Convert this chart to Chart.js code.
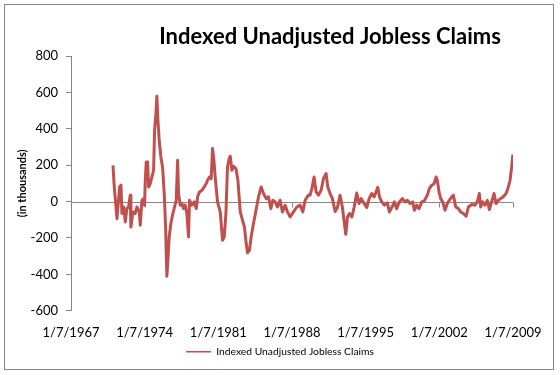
<!DOCTYPE html>
<html lang="en">
<head>
<meta charset="UTF-8" />
<title>Indexed Unadjusted Jobless Claims</title>
<script src="https://cdn.jsdelivr.net/npm/chart.js"></script>
<style>
  html, body { margin: 0; padding: 0; background: #fff; }
  #wrap { width: 560px; height: 375px; position: relative; }
</style>
</head>
<body>
<div id="wrap"><canvas id="claimsChart" width="560" height="375"></canvas></div>
<script>
// weekly readings, year as decimal, values in thousands
const years = [
  1970.99, 1971.11, 1971.37, 1971.62, 1971.75, 1971.84, 1972.00, 1972.16, 1972.31, 1972.47,
  1972.63, 1972.69, 1972.88, 1973.10, 1973.26, 1973.49, 1973.58, 1973.74, 1973.90, 1973.99,
  1974.06, 1974.15, 1974.28, 1974.37, 1974.53, 1974.69, 1974.85, 1974.94, 1975.07, 1975.16,
  1975.26, 1975.38, 1975.54, 1975.70, 1975.86, 1975.99, 1976.05, 1976.11, 1976.21, 1976.33,
  1976.49, 1976.68, 1976.84, 1977.00, 1977.13, 1977.22, 1977.38, 1977.54, 1977.69, 1977.85,
  1978.01, 1978.17, 1978.26, 1978.49, 1978.71, 1978.90, 1979.03, 1979.21, 1979.44, 1979.66,
  1979.85, 1979.97, 1980.16, 1980.32, 1980.45, 1980.58, 1980.70, 1980.92, 1981.18, 1981.40,
  1981.56, 1981.72, 1981.87, 1982.03, 1982.13, 1982.29, 1982.44, 1982.67, 1982.86, 1983.08,
  1983.30, 1983.48, 1983.65, 1983.77, 1983.96, 1984.12, 1984.34, 1984.56, 1984.82, 1985.07,
  1985.29, 1985.55, 1985.76, 1985.99, 1986.18, 1986.40, 1986.62, 1986.87, 1987.09, 1987.35,
  1987.57, 1987.82, 1988.14, 1988.46, 1988.77, 1989.03, 1989.25, 1989.56, 1989.72, 1989.89,
  1990.10, 1990.29, 1990.51, 1990.77, 1990.99, 1991.24, 1991.40, 1991.62, 1991.84, 1992.10,
  1992.32, 1992.57, 1992.79, 1992.98, 1993.11, 1993.27, 1993.46, 1993.68, 1993.90, 1994.15,
  1994.38, 1994.57, 1994.85, 1995.10, 1995.33, 1995.58, 1995.80, 1995.99, 1996.15, 1996.31,
  1996.53, 1996.78, 1997.06, 1997.25, 1997.48, 1997.73, 1997.95, 1998.20, 1998.49, 1998.74,
  1998.96, 1999.22, 1999.47, 1999.63, 1999.85, 2000.07, 2000.33, 2000.58, 2000.86, 2001.05,
  2001.28, 2001.50, 2001.69, 2001.81, 2001.97, 2002.13, 2002.32, 2002.54, 2002.76, 2002.95,
  2003.18, 2003.33, 2003.56, 2003.81, 2004.03, 2004.28, 2004.54, 2004.76, 2005.08, 2005.39,
  2005.61, 2005.80, 2005.93, 2006.12, 2006.34, 2006.56, 2006.75, 2006.97, 2007.20, 2007.39,
  2007.61, 2007.83, 2008.08, 2008.34, 2008.56, 2008.72, 2008.87, 2008.96, 2009.00
];
const claims = [
  199, 80, -94, 80, 90, -66, -30, -112, -39, -30,
  35, -140, -57, -66, -30, -57, -130, 7, 16, -20,
  117, 218, 218, 80, 99, 135, 172, 392, 483, 579,
  447, 337, 245, 190, 44, -140, -286, -410, -322, -194,
  -121, -66, -30, 7, 227, 44, -20, -11, -39, -20,
  -66, -194, 7, -20, -2, -39, 26, 53, 62, 80,
  99, 117, 135, 126, 291, 227, 135, -2, -57, -213,
  -194, -66, 190, 236, 249, 172, 194, 181, 117, -55,
  -103, -140, -231, -282, -268, -194, -121, -55, 26, 80,
  44, 16, 26, -39, 7, -2, -30, 7, -57, -20,
  -57, -84, -57, -30, -20, -57, 7, 35, 35, 71,
  135, 53, 35, 62, 127, 154, 80, 44, 16, -55,
  -33, 35, -33, -121, -180, -85, -66, -85, -33, 47,
  -11, 16, -11, -33, 16, 44, 26, 53, 78, 26,
  -2, -20, -7, -57, -33, -2, -39, -2, 16, -2,
  7, -11, -2, -48, -20, -39, -2, 4, 35, 71,
  90, 98, 135, 117, 53, 16, -2, -48, -11, 7,
  26, 35, -30, -39, -57, -66, -81, -30, -16, -20,
  -2, 44, -30, -2, -20, 7, -44, -2, 44, -11,
  7, 16, 26, 44, 80, 117, 190, 245, 258
];
const xTicks = [1967, 1974, 1981, 1988, 1995, 2002, 2009];
const yMin = -600, yMax = 800, yStep = 200;

const GRAY = '#868686';
const FONT = 'Lato, Carlito, Calibri, "DejaVu Sans", sans-serif';

// outer frame + title placed like the Excel original
const frame = {
  id: 'frame',
  beforeDraw(chart) {
    const ctx = chart.ctx;
    ctx.save();
    ctx.fillStyle = '#fff';
    ctx.fillRect(0, 0, chart.width, chart.height);
    ctx.strokeStyle = GRAY;
    ctx.lineWidth = 1;
    ctx.strokeRect(4.5, 4.5, 549, 365);
    ctx.fillStyle = '#000';
    ctx.font = 'bold 22px ' + FONT;
    ctx.textAlign = 'center';
    ctx.textBaseline = 'middle';
    ctx.fillText('Indexed Unadjusted Jobless Claims', 330, 37);
    ctx.restore();
  },
  // legend is centred on the whole frame, not on the plot
  afterLayout(chart) {
    if (chart.legend) {
      chart.legend.left = 0;
      chart.legend.right = chart.width;
    }
  }
};

// horizontal axis line sits on zero, labels stay at the bottom
const zeroAxis = {
  id: 'zeroAxis',
  beforeDatasetsDraw(chart) {
    const { ctx, scales: { x, y } } = chart;
    const y0 = Math.round(y.getPixelForValue(0)) + 0.5;
    ctx.save();
    ctx.strokeStyle = GRAY;
    ctx.lineWidth = 1;
    ctx.beginPath();
    ctx.moveTo(x.left, y0);
    ctx.lineTo(x.right, y0);
    xTicks.forEach(t => {
      const px = Math.round(x.getPixelForValue(t)) + 0.5;
      ctx.moveTo(px, y0);
      ctx.lineTo(px, y0 + 5);
    });
    ctx.stroke();
    ctx.restore();
  }
};

new Chart(document.getElementById('claimsChart'), {
  type: 'line',
  data: {
    datasets: [{
      label: 'Indexed Unadjusted Jobless Claims',
      data: years.map((yr, i) => ({ x: yr, y: claims[i] })),
      borderColor: '#C0504D',
      backgroundColor: '#C0504D',
      borderWidth: 3,
      pointRadius: 0,
      tension: 0,
      borderJoinStyle: 'round'
    }]
  },
  options: {
    responsive: false,
    animation: false,
    layout: { padding: { left: 0, right: 47, top: 56, bottom: 8 } },
    plugins: {
      title: { display: false },
      tooltip: { enabled: false },
      legend: {
        position: 'bottom',
        labels: {
          color: '#000',
          font: { family: FONT, size: 10.3 },
          usePointStyle: true,
          pointStyle: 'line',
          pointStyleWidth: 25,
          padding: 8,
          generateLabels(chart) {
            const items = Chart.defaults.plugins.legend.labels.generateLabels(chart);
            items.forEach(it => { it.lineWidth = 1.5; it.pointStyle = 'line'; });
            return items;
          }
        }
      }
    },
    scales: {
      x: {
        type: 'linear',
        min: xTicks[0],
        max: xTicks[xTicks.length - 1],
        border: { display: false },
        grid: { display: false, drawTicks: false },
        afterBuildTicks(scale) { scale.ticks = xTicks.map(v => ({ value: v })); },
        afterFit(scale) { scale.height = 28; },
        ticks: {
          color: '#000',
          font: { family: FONT, size: 13 },
          padding: 14,
          maxRotation: 0,
          autoSkip: false,
          callback: v => '1/7/' + Math.round(v)
        }
      },
      y: {
        min: yMin,
        max: yMax,
        border: { display: true, color: GRAY },
        grid: { drawOnChartArea: false, drawTicks: true, tickLength: 5, color: GRAY },
        afterFit(scale) { scale.width = 71; },
        ticks: {
          stepSize: yStep,
          color: '#000',
          font: { family: FONT, size: 13 },
          padding: 8
        },
        title: {
          display: true,
          text: '(in thousands)',
          color: '#000',
          font: { family: FONT, size: 11, weight: 'bold' },
          padding: { top: 16, bottom: 0 }
        }
      }
    }
  },
  plugins: [frame, zeroAxis]
});
</script>
</body>
</html>
